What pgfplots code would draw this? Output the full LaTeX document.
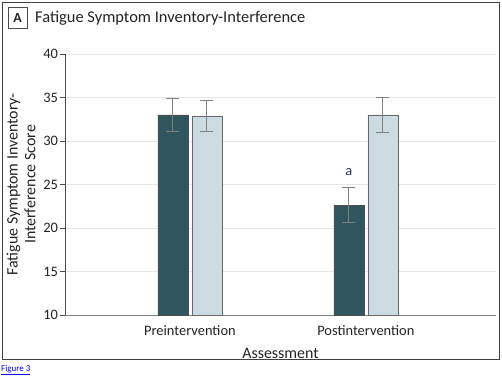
\documentclass[border=0pt]{standalone}
\usepackage{pgfplots}
\pgfplotsset{compat=1.18}
\usepackage{fontspec}
\setmainfont{Carlito}
\definecolor{darkbar}{RGB}{47,85,95}
\definecolor{lightbar}{RGB}{204,219,226}
\definecolor{txt}{RGB}{35,35,35}
\definecolor{atxt}{RGB}{40,50,100}
\pgfplotsset{myerr/.style={error bars/y dir=both, error bars/y explicit,
  error bars/error bar style={gray, line width=1bp},
  error bars/error mark options={rotate=90, gray, mark size=6.5bp, line width=1bp}}}
\begin{document}
\begin{tikzpicture}[x=1bp,y=1bp]
\begin{axis}[scale only axis,
  width=431bp, height=261bp,
  ybar=4bp, bar width=30bp,
  xmin=-0.71, xmax=1.74, ymin=10, ymax=40,
  xtick={0,1}, xticklabels={Preintervention,Postintervention},
  ytick={10,15,...,40},
  axis x line*=bottom, axis y line*=left,
  x axis line style={gray, -, line width=1bp},
  y axis line style={black!70, -, line width=0.8bp},
  ymajorgrids, grid style={gray!20},
  major tick length=4.5bp, tick align=outside,
  xtick style={draw=none},
  ytick style={black!70},
  /pgf/number format/assume math mode=true,
  tick label style={font=\fontsize{14.5}{16}\selectfont, text=txt},
  xticklabel style={yshift=-2bp},
  yticklabel style={xshift=1bp},
  label style={font=\fontsize{16}{18}\selectfont, text=txt},
  xlabel={Assessment},
  ylabel={Fatigue Symptom Inventory-\\Interference Score},
  ylabel style={align=center, at={(axis description cs:-0.102,0.5)}, anchor=center},
  xlabel style={at={(axis description cs:0.5,-0.146)}, anchor=center},
]
\addplot[fill=darkbar, draw=black!70, myerr] coordinates {(0,33.0) +- (0,1.9) (1,22.6) +- (0,2.0)};
\addplot[fill=lightbar, draw=black!60, myerr] coordinates {(0,32.9) +- (0,1.8) (1,33.0) +- (0,2.05)};
\node[text=atxt, font=\fontsize{14.5}{16}\selectfont] at (axis cs:1,26.4) [xshift=-17bp] {a};
\coordinate (O) at (rel axis cs:0,0);
\end{axis}
\pgfresetboundingbox
\begin{scope}[shift={(O)}]
\path (-65,315) rectangle (437,-62);
\draw[line width=1bp, black!75] (-62,312) rectangle (434,-44);
\node[draw=black!70, line width=0.8bp, minimum width=19bp, minimum height=21bp, inner sep=0, text=txt, font=\bfseries\fontsize{14}{16}\selectfont] at (-47.5,297) {A};
\node[anchor=west, inner sep=0, text=txt, font=\fontsize{16.5}{19}\selectfont] at (-30,297) {Fatigue Symptom Inventory-Interference};
\node[anchor=south west, inner sep=0, text=blue, font=\fontsize{9}{10}\selectfont] at (-64,-60) {\underline{Figure 3}};
\end{scope}
\end{tikzpicture}
\end{document}
